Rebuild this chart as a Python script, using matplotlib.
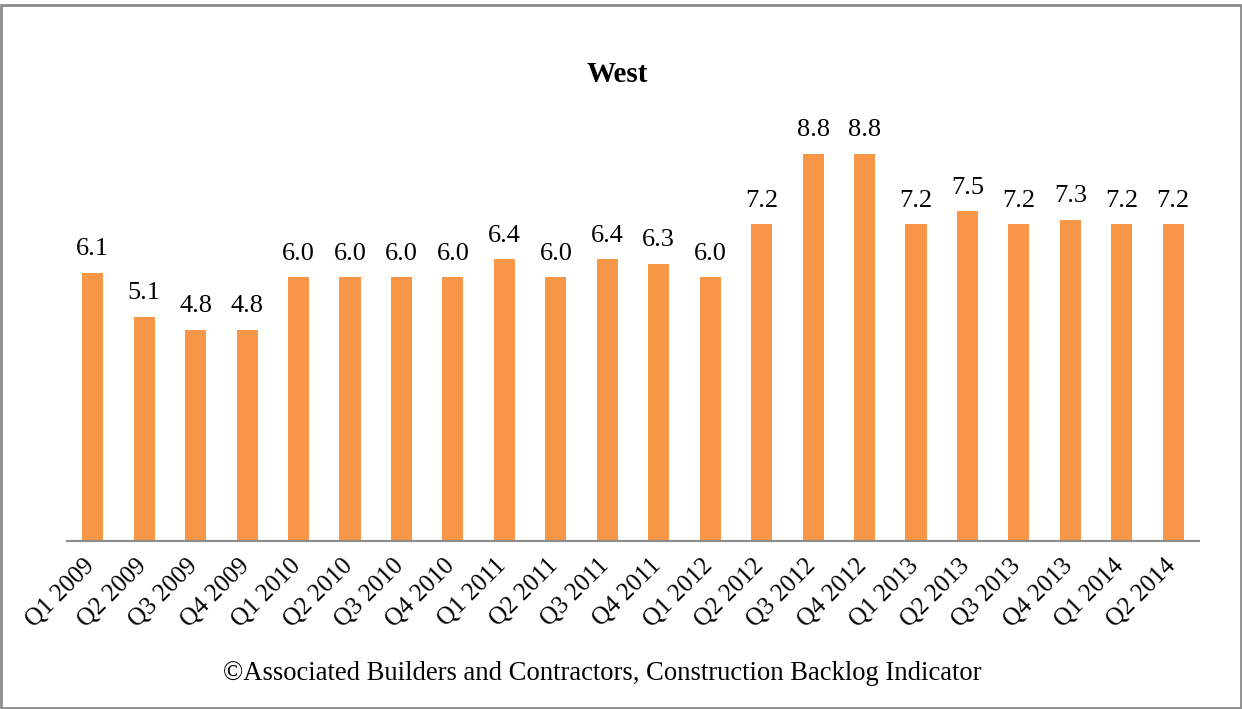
import matplotlib.pyplot as plt
import matplotlib.transforms as mtransforms
from matplotlib.patches import Rectangle

# chart data
quarters = ['Q1 2009', 'Q2 2009', 'Q3 2009', 'Q4 2009',
            'Q1 2010', 'Q2 2010', 'Q3 2010', 'Q4 2010',
            'Q1 2011', 'Q2 2011', 'Q3 2011', 'Q4 2011',
            'Q1 2012', 'Q2 2012', 'Q3 2012', 'Q4 2012',
            'Q1 2013', 'Q2 2013', 'Q3 2013', 'Q4 2013',
            'Q1 2014', 'Q2 2014']
backlog = [6.1, 5.1, 4.8, 4.8,
           6.0, 6.0, 6.0, 6.0,
           6.4, 6.0, 6.4, 6.3,
           6.0, 7.2, 8.8, 8.8,
           7.2, 7.5, 7.2, 7.3,
           7.2, 7.2]

bar_color = '#F79646'
plt.rcParams['font.family'] = ['Liberation Serif', 'DejaVu Serif']

fig = plt.figure(figsize=(12.42, 7.09), dpi=100)
ax = fig.add_axes([67 / 1242, 168 / 709, 1132 / 1242, 440 / 709])

x = range(len(quarters))
bars = ax.bar(x, backlog, width=0.41, color=bar_color)
ax.bar_label(bars, labels=['%.1f' % v for v in backlog], padding=9, fontsize=19)

ax.set_xlim(-0.5, len(quarters) - 0.5)
ax.set_ylim(0, 10)
ax.set_xticks(list(x))
ax.set_xticklabels(quarters, rotation=45, ha='right', rotation_mode='anchor', fontsize=18)
ax.tick_params(axis='x', length=0, pad=10)
# nudge the slanted labels a little to the left, as in the original
shift = mtransforms.ScaledTranslation(-0.09, 0, fig.dpi_scale_trans)
for lab in ax.get_xticklabels():
    lab.set_transform(lab.get_transform() + shift)
ax.set_yticks([])
for side in ['top', 'right', 'left']:
    ax.spines[side].set_visible(False)
ax.spines['bottom'].set_color('#8c8c8c')
ax.spines['bottom'].set_linewidth(1.5)

fig.text(617 / 1242, 1 - 75 / 709, 'West', ha='center', va='center',
         fontsize=21, fontweight='bold')
fig.text(602 / 1242, 1 - 673 / 709,
         '\u00a9Associated Builders and Contractors, Construction Backlog Indicator',
         ha='center', va='center', fontsize=19.2)

# grey frame round the whole chart
fig.patches.append(Rectangle((1 / 1242, 1 / 709), 1240 / 1242, 703 / 709,
                             transform=fig.transFigure, fill=False,
                             edgecolor='#8c8c8c', linewidth=2))

fig.savefig('out.png', dpi=100)
